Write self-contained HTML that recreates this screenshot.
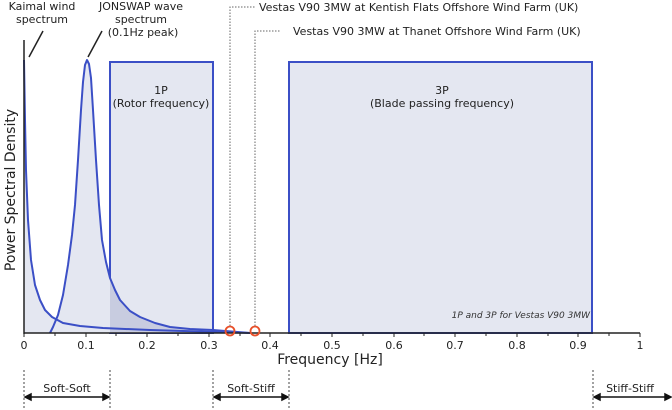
<!DOCTYPE html>
<html><head><meta charset="utf-8"><style>
html,body{margin:0;padding:0;background:#fff}
svg{display:block;font-family:"DejaVu Sans","Liberation Sans",sans-serif}
</style></head><body>
<svg width="672" height="410" viewBox="0 0 672 410" xmlns="http://www.w3.org/2000/svg">
<defs>
<clipPath id="c1"><rect x="110" y="61" width="103" height="272"/></clipPath>
</defs>
<rect x="110" y="62" width="103" height="271" fill="#e4e7f1" stroke="#3b4fc6" stroke-width="2"/>
<rect x="289" y="62" width="303" height="271" fill="#e4e7f1" stroke="#3b4fc6" stroke-width="2"/>
<polygon points="24,333 24,60 25,120 26,170 28,220 31,260 35,285 40,300 45,310 52,317 63,323 80,326 103,328 150,330 250,333" fill="#e4e7f1"/>
<polygon points="50,333 53,327 58,315 63,295 68,265 72,235 75,205 78,160 81,110 83,82 85,65 87,60 89,64 91,78 93,110 96,160 99,205 102,240 106,262 110,278 115,290 120,300 130,311 140,317 155,323 170,327 190,329 213,330 250,333" fill="#e4e7f1"/>
<polygon clip-path="url(#c1)" points="50,333 53,327 58,315 63,295 68,265 72,235 75,205 78,160 81,110 83,82 85,65 87,60 89,64 91,78 93,110 96,160 99,205 102,240 106,262 110,278 115,290 120,300 130,311 140,317 155,323 170,327 190,329 213,330 250,333" fill="#c8cce0"/>
<polyline points="24,60 25,120 26,170 28,220 31,260 35,285 40,300 45,310 52,317 63,323 80,326 103,328 150,330 250,333" fill="none" stroke="#3b4fc6" stroke-width="2" stroke-linejoin="round"/>
<polyline points="50,333 53,327 58,315 63,295 68,265 72,235 75,205 78,160 81,110 83,82 85,65 87,60 89,64 91,78 93,110 96,160 99,205 102,240 106,262 110,278 115,290 120,300 130,311 140,317 155,323 170,327 190,329 213,330 250,333" fill="none" stroke="#3b4fc6" stroke-width="2" stroke-linejoin="round"/>
<line x1="24" y1="40" x2="24" y2="334" stroke="#222" stroke-width="1.5"/>
<line x1="24" y1="333" x2="640" y2="333" stroke="#222" stroke-width="1.5"/>
<g stroke="#222" stroke-width="1">
<line x1="24" y1="333" x2="24" y2="337"/><line x1="55" y1="333" x2="55" y2="336"/><line x1="86" y1="333" x2="86" y2="337"/><line x1="116" y1="333" x2="116" y2="336"/><line x1="147" y1="333" x2="147" y2="337"/><line x1="178" y1="333" x2="178" y2="336"/><line x1="209" y1="333" x2="209" y2="337"/><line x1="240" y1="333" x2="240" y2="336"/><line x1="270" y1="333" x2="270" y2="337"/><line x1="301" y1="333" x2="301" y2="336"/><line x1="332" y1="333" x2="332" y2="337"/><line x1="363" y1="333" x2="363" y2="336"/><line x1="394" y1="333" x2="394" y2="337"/><line x1="424" y1="333" x2="424" y2="336"/><line x1="455" y1="333" x2="455" y2="337"/><line x1="486" y1="333" x2="486" y2="336"/><line x1="517" y1="333" x2="517" y2="337"/><line x1="548" y1="333" x2="548" y2="336"/><line x1="578" y1="333" x2="578" y2="337"/><line x1="609" y1="333" x2="609" y2="336"/><line x1="640" y1="333" x2="640" y2="337"/>
</g>
<g font-size="11" fill="#222" text-anchor="middle">
<text x="24" y="349">0</text><text x="86" y="349">0.1</text><text x="147" y="349">0.2</text><text x="209" y="349">0.3</text><text x="270" y="349">0.4</text><text x="332" y="349">0.5</text><text x="394" y="349">0.6</text><text x="455" y="349">0.7</text><text x="517" y="349">0.8</text><text x="578" y="349">0.9</text><text x="640" y="349">1</text>
</g>
<text x="330" y="364" font-size="14" text-anchor="middle" fill="#222">Frequency [Hz]</text>
<text transform="translate(15,190) rotate(-90)" font-size="14" text-anchor="middle" fill="#222">Power Spectral Density</text>
<g font-size="11" fill="#222" text-anchor="middle">
<text x="42" y="10">Kaimal wind</text><text x="42" y="23">spectrum</text>
<text x="141" y="10">JONSWAP wave</text><text x="141" y="23">spectrum</text><text x="143" y="36">(0.1Hz peak)</text>
<text x="161" y="94">1P</text><text x="161" y="107">(Rotor frequency)</text>
<text x="442" y="94">3P</text><text x="442" y="107">(Blade passing frequency)</text>
</g>
<line x1="29" y1="57" x2="43" y2="31" stroke="#222" stroke-width="1.5"/>
<line x1="88" y1="57" x2="102" y2="31" stroke="#222" stroke-width="1.5"/>
<text x="590" y="318" font-size="9" font-style="italic" fill="#333" text-anchor="end">1P and 3P for Vestas V90 3MW</text>
<g stroke="#666" stroke-width="1" stroke-dasharray="1.5,1.5" fill="none">
<polyline points="230,326 230,7 255,7"/>
<polyline points="255,326 255,31 280,31"/>
</g>
<g font-size="11" fill="#222">
<text x="259" y="11">Vestas V90 3MW at Kentish Flats Offshore Wind Farm (UK)</text>
<text x="293" y="35">Vestas V90 3MW at Thanet Offshore Wind Farm (UK)</text>
</g>
<circle cx="230" cy="331" r="4.5" fill="none" stroke="#e8502a" stroke-width="1.8"/>
<circle cx="255" cy="331" r="4.5" fill="none" stroke="#e8502a" stroke-width="1.8"/>
<g stroke="#444" stroke-width="1" stroke-dasharray="2,2">
<line x1="24" y1="370" x2="24" y2="410"/><line x1="110" y1="370" x2="110" y2="410"/>
<line x1="213" y1="370" x2="213" y2="410"/><line x1="289" y1="370" x2="289" y2="410"/>
<line x1="593" y1="370" x2="593" y2="410"/>
</g>
<g stroke="#111" stroke-width="1.5" fill="#111">
<line x1="29" y1="397" x2="105" y2="397"/><path d="M25,397 L31,394 L31,400 Z"/><path d="M109,397 L103,394 L103,400 Z"/>
<line x1="218" y1="397" x2="284" y2="397"/><path d="M214,397 L220,394 L220,400 Z"/><path d="M288,397 L282,394 L282,400 Z"/>
<line x1="598" y1="397" x2="668" y2="397"/><path d="M594,397 L600,394 L600,400 Z"/><path d="M671,397 L665,394 L665,400 Z"/>
</g>
<g font-size="11" fill="#222" text-anchor="middle">
<text x="67" y="392">Soft-Soft</text>
<text x="251" y="392">Soft-Stiff</text>
<text x="630" y="392">Stiff-Stiff</text>
</g>
</svg>
</body></html>
